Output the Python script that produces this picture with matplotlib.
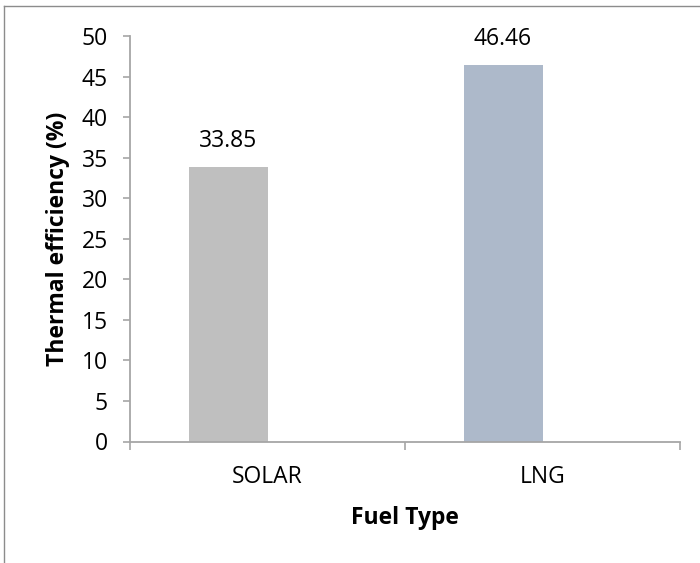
import matplotlib
matplotlib.use("Agg")
import matplotlib.pyplot as plt
from matplotlib.lines import Line2D

categories = ["SOLAR", "LNG"]
values = [33.85, 46.46]
colors = ["#BFBFBF", "#ADB9CA"]
yticks = [0, 5, 10, 15, 20, 25, 30, 35, 40, 45, 50]

plt.rcParams['font.family'] = ['Open Sans', 'DejaVu Sans']
FS = 16.5

fig = plt.figure(figsize=(7, 5.63), dpi=100)
ax = fig.add_axes([130/700, 1-441.5/563, 550/700, (441.5-36)/563])

bar_w = 0.287
x = list(range(len(categories)))
bx = [xi - bar_w / 2 for xi in x]
ax.bar(bx, values, width=bar_w, color=colors, zorder=2)
for xi, v in zip(bx, values):
    ax.annotate(f"{v:.2f}", (xi, v), xytext=(0, 10), textcoords="offset points",
                ha="center", va="bottom", fontsize=FS)

ax.set_xlim(-0.5, len(categories) - 0.5)
ax.set_ylim(0, 50)
ax.set_yticks(yticks)
ax.set_xticks([i - 0.5 for i in range(len(categories) + 1)])
ax.set_xticklabels([])
ax.set_xticks(x, minor=True)
ax.set_xticklabels(categories, minor=True)
ax.tick_params(axis="x", which="major", direction="out", length=5.5, width=1.2, color="#A6A6A6")
ax.tick_params(axis="x", which="minor", length=0, pad=17, labelsize=FS)
ax.tick_params(axis="y", direction="out", length=5, width=1.2, color="#A6A6A6", labelsize=FS, pad=11)

for s in ["top", "right"]:
    ax.spines[s].set_visible(False)
for s in ["left", "bottom"]:
    ax.spines[s].set_color("#A6A6A6")
    ax.spines[s].set_linewidth(1.3)

ax.set_xlabel("Fuel Type", fontsize=FS, fontweight="bold", labelpad=12)
ax.set_ylabel("Thermal efficiency (%)", fontsize=FS, fontweight="bold", labelpad=8)

fig.add_artist(Line2D([4/700, 4/700], [0, 1-6/563], transform=fig.transFigure, color="#8C8C8C", lw=1))
fig.add_artist(Line2D([4/700, 1], [1-6/563, 1-6/563], transform=fig.transFigure, color="#8C8C8C", lw=1))

fig.savefig("out.png", dpi=100)
